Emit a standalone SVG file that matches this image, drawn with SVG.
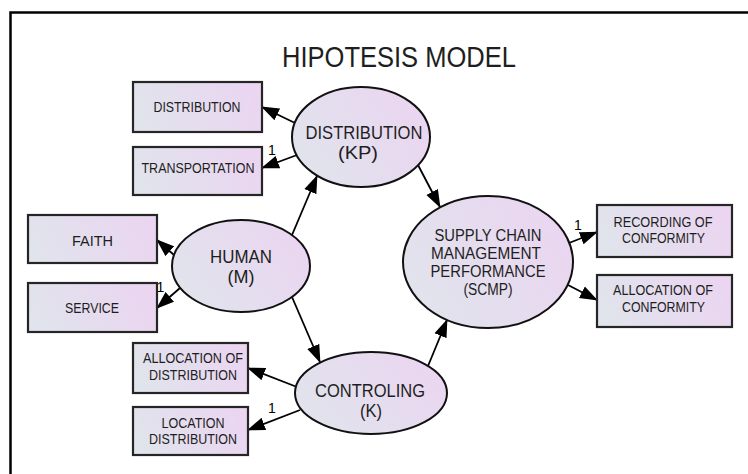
<svg xmlns="http://www.w3.org/2000/svg" width="748" height="474" viewBox="0 0 748 474">
  <defs>
    <linearGradient id="fillBox" x1="0" y1="0.6" x2="1" y2="0.4">
      <stop offset="0" stop-color="#e0e4ec"/>
      <stop offset="1" stop-color="#ebd5f1"/>
    </linearGradient>
    <linearGradient id="fillOval" x1="0" y1="0.75" x2="1" y2="0.25">
      <stop offset="0" stop-color="#e0e4ec"/>
      <stop offset="1" stop-color="#ebd5f1"/>
    </linearGradient>
    <marker id="head" markerUnits="userSpaceOnUse" markerWidth="18" markerHeight="14" refX="17" refY="7" orient="auto">
      <path d="M0,0.5 L18,7 L0,13.5 z" fill="#000"/>
    </marker>
    <style>
      text { font-family: "Liberation Sans", Arial, sans-serif; fill: #1e1e1e; text-anchor: middle; }
      .box { fill: url(#fillBox); stroke: #262626; stroke-width: 2.2; }
      .oval { fill: url(#fillOval); stroke: #111; stroke-width: 2; }
      .bt { font-size: 14.5px; }
      .bt2 { font-size: 14px; }
      .ot { font-size: 17.5px; }
      .st { font-size: 16px; }
      .wt { font-size: 14px; fill: #000; }
      #connectors line { stroke: #000; stroke-width: 1.8; marker-end: url(#head); }
    </style>
  </defs>

  <rect width="748" height="474" fill="#fff"/>
  <!-- outer frame, running off the right and bottom edges -->
  <rect x="10.5" y="12.5" width="760" height="480" fill="none" stroke="#000" stroke-width="2.5"/>

  <text x="399" y="67" font-size="29" textLength="234" lengthAdjust="spacingAndGlyphs">HIPOTESIS MODEL</text>

  <g id="connectors">
    <line x1="295" y1="123" x2="262" y2="107"/>
    <line x1="297" y1="155" x2="262" y2="168"/>
    <line x1="174" y1="255" x2="157" y2="240"/>
    <line x1="180" y1="288" x2="157" y2="308"/>
    <line x1="292" y1="235" x2="317" y2="176"/>
    <line x1="292" y1="297" x2="320" y2="362"/>
    <line x1="418" y1="165" x2="440" y2="207"/>
    <line x1="428" y1="366" x2="447" y2="320"/>
    <line x1="297" y1="387" x2="248" y2="368"/>
    <line x1="300" y1="410" x2="248" y2="430"/>
    <line x1="569" y1="243" x2="597" y2="232"/>
    <line x1="568" y1="285" x2="597" y2="300"/>
    <text class="wt" x="272" y="155">1</text>
    <text class="wt" x="160.5" y="292">1</text>
    <text class="wt" x="272" y="413">1</text>
    <text class="wt" x="578" y="230">1</text>
  </g>

  <g id="kp">
    <ellipse class="oval" cx="361" cy="137" rx="69" ry="50"/>
    <text class="ot" x="364" y="139" textLength="117" lengthAdjust="spacingAndGlyphs">DISTRIBUTION</text>
    <text class="ot" x="358" y="158.5" textLength="40" lengthAdjust="spacingAndGlyphs">(KP)</text>
  </g>
  <g id="m">
    <ellipse class="oval" cx="241" cy="266" rx="69" ry="46"/>
    <text class="ot" x="241" y="263" textLength="62" lengthAdjust="spacingAndGlyphs">HUMAN</text>
    <text class="ot" x="241" y="283" textLength="27" lengthAdjust="spacingAndGlyphs">(M)</text>
  </g>
  <g id="k">
    <ellipse class="oval" cx="371" cy="393" rx="76" ry="41"/>
    <text class="ot" x="370" y="397" textLength="110" lengthAdjust="spacingAndGlyphs">CONTROLING</text>
    <text class="ot" x="371" y="417" textLength="22" lengthAdjust="spacingAndGlyphs">(K)</text>
  </g>
  <g id="scmp">
    <ellipse class="oval" cx="488" cy="262" rx="85" ry="66"/>
    <text class="st" x="488" y="241" textLength="107" lengthAdjust="spacingAndGlyphs">SUPPLY CHAIN</text>
    <text class="st" x="486" y="259" textLength="110" lengthAdjust="spacingAndGlyphs">MANAGEMENT</text>
    <text class="st" x="488" y="277" textLength="115" lengthAdjust="spacingAndGlyphs">PERFORMANCE</text>
    <text class="st" x="488" y="295" textLength="49" lengthAdjust="spacingAndGlyphs">(SCMP)</text>
  </g>

  <g id="distribution">
    <rect class="box" x="133" y="82" width="129" height="50"/>
    <text class="bt" x="197" y="112" textLength="87" lengthAdjust="spacingAndGlyphs">DISTRIBUTION</text>
  </g>
  <g id="transportation">
    <rect class="box" x="133" y="147" width="129" height="48"/>
    <text class="bt" x="198" y="173" textLength="113" lengthAdjust="spacingAndGlyphs">TRANSPORTATION</text>
  </g>
  <g id="faith">
    <rect class="box" x="28" y="215" width="129" height="48"/>
    <text class="bt" x="92.5" y="246" textLength="41" lengthAdjust="spacingAndGlyphs">FAITH</text>
  </g>
  <g id="service">
    <rect class="box" x="28" y="283" width="129" height="49"/>
    <text class="bt" x="92" y="313" textLength="54" lengthAdjust="spacingAndGlyphs">SERVICE</text>
  </g>
  <g id="allocation-distribution">
    <rect class="box" x="133" y="343" width="115" height="50"/>
    <text class="bt" x="193" y="363" textLength="100" lengthAdjust="spacingAndGlyphs">ALLOCATION OF</text>
    <text class="bt" x="193" y="380" textLength="88" lengthAdjust="spacingAndGlyphs">DISTRIBUTION</text>
  </g>
  <g id="location-distribution">
    <rect class="box" x="133" y="407" width="115" height="48"/>
    <text class="bt2" x="193" y="428" textLength="63" lengthAdjust="spacingAndGlyphs">LOCATION</text>
    <text class="bt2" x="193" y="444" textLength="88" lengthAdjust="spacingAndGlyphs">DISTRIBUTION</text>
  </g>
  <g id="recording-conformity">
    <rect class="box" x="597" y="205" width="135" height="52"/>
    <text class="bt2" x="663" y="227" textLength="99" lengthAdjust="spacingAndGlyphs">RECORDING OF</text>
    <text class="bt2" x="663.5" y="243" textLength="83" lengthAdjust="spacingAndGlyphs">CONFORMITY</text>
  </g>
  <g id="allocation-conformity">
    <rect class="box" x="597" y="275" width="135" height="52"/>
    <text class="bt" x="663" y="295" textLength="100" lengthAdjust="spacingAndGlyphs">ALLOCATION OF</text>
    <text class="bt" x="663.5" y="312" textLength="83" lengthAdjust="spacingAndGlyphs">CONFORMITY</text>
  </g>
</svg>
